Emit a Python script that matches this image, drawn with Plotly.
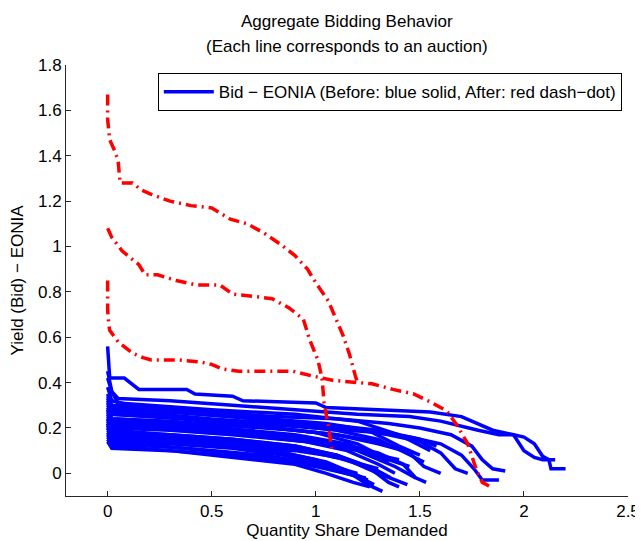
import plotly.graph_objects as go

# ---------------- data ----------------
# Before: blue solid bid curves (quantity share, yield - EONIA)
blue_x = [
    [0, 0.01, 0.08, 0.15, 0.38, 0.42, 0.6, 0.65, 1.0, 1.05, 1.3, 1.55, 1.7, 1.78, 1.85, 1.95, 2.0, 2.05, 2.09, 2.12, 2.13, 2.2],
    [0, 0.02, 0.05, 0.3, 0.6, 0.9, 1.2, 1.45, 1.6, 1.78, 1.88, 1.95, 2.0, 2.05, 2.09, 2.15],
    [0, 0.02, 0.2, 0.5, 0.8, 1.1, 1.35, 1.5, 1.65, 1.75, 1.8, 1.85, 1.91],
    [0, 0.02, 0.25, 0.55, 0.85, 1.1, 1.3, 1.45, 1.6, 1.7, 1.76, 1.8, 1.88],
    [0, 0.02, 0.3, 0.6, 0.9, 1.15, 1.35, 1.5, 1.6, 1.67, 1.73],
    [0, 0.02, 0.3, 0.6, 0.9, 1.1, 1.3, 1.45, 1.52, 1.6],
    [0, 0.02, 0.3, 0.6, 0.9, 1.1, 1.3, 1.42, 1.48, 1.53],
    [0, 0.02, 0.25, 0.55, 0.8, 1.0, 1.15, 1.25, 1.32],
    [0, 0.02, 0.3, 0.6, 0.9, 1.1, 1.25, 1.35, 1.4],
    [0, 0.02, 0.35, 0.7, 1.0, 1.2, 1.35, 1.45],
    [0, 0.03, 0.3, 0.6, 0.85, 1.05, 1.18, 1.25],
    [0, 0.02, 0.3, 0.6, 0.85, 1.0, 1.12, 1.2],
    [0, 0.02, 0.3, 0.6, 0.85, 1.0, 1.12],
    [0, 0.02, 0.4, 0.7, 1.0, 1.2, 1.3, 1.35],
    [0, 0.02, 0.2, 0.5, 0.8, 1.05, 1.25, 1.4, 1.5],
    [0, 0.02, 0.3, 0.55, 0.8, 1.0, 1.15, 1.28],
    [0, 0.02, 0.35, 0.65, 0.95, 1.15, 1.3, 1.38],
    [0, 0.03, 0.3, 0.6, 0.9, 1.05, 1.15],
    [0, 0.02, 0.4, 0.8, 1.1, 1.3, 1.42],
    [0, 0.02, 0.3, 0.6, 0.9, 1.1, 1.22, 1.3],
    [0, 0.02, 0.05, 0.2, 0.5, 0.9, 1.2, 1.4, 1.55],
    [0, 0.02, 0.3, 0.6, 0.95, 1.2, 1.38, 1.48],
    [0, 0.02, 0.25, 0.5, 0.75, 0.95, 1.1, 1.22],
    [0, 0.02, 0.3, 0.6, 0.9, 1.05, 1.18, 1.26],
    [0, 0.02, 0.3, 0.7, 1.0, 1.3, 1.5, 1.58],
    [0, 0.02, 0.3, 0.6, 0.9, 1.1, 1.3, 1.44],
    [0, 0.02, 0.25, 0.5, 0.8, 1.1, 1.3, 1.45, 1.52],
    [0, 0.02, 0.3, 0.6, 0.9, 1.1, 1.28, 1.36],
    [0, 0.02, 0.2, 0.55, 0.9, 1.15, 1.3, 1.4],
    [0, 0.02, 0.3, 0.7, 1.0, 1.15, 1.24],
]
blue_y = [
    [0.56, 0.42, 0.42, 0.37, 0.37, 0.35, 0.34, 0.32, 0.31, 0.29, 0.28, 0.27, 0.25, 0.22, 0.19, 0.17, 0.16, 0.13, 0.075, 0.06, 0.02, 0.02],
    [0.42, 0.36, 0.33, 0.32, 0.30, 0.28, 0.26, 0.25, 0.23, 0.19, 0.17, 0.17, 0.10, 0.07, 0.06, 0.06],
    [0.35, 0.30, 0.29, 0.27, 0.25, 0.24, 0.22, 0.20, 0.17, 0.12, 0.06, 0.02, 0.01],
    [0.30, 0.26, 0.25, 0.23, 0.21, 0.19, 0.18, 0.16, 0.13, 0.08, 0.02, -0.03, -0.03],
    [0.33, 0.28, 0.27, 0.25, 0.22, 0.20, 0.17, 0.14, 0.09, 0.02, 0.0],
    [0.28, 0.24, 0.23, 0.21, 0.19, 0.17, 0.14, 0.09, 0.03, 0.0],
    [0.25, 0.21, 0.20, 0.18, 0.16, 0.13, 0.09, 0.04, -0.02, -0.04],
    [0.22, 0.17, 0.15, 0.12, 0.09, 0.05, 0.01, -0.05, -0.08],
    [0.24, 0.19, 0.17, 0.15, 0.12, 0.08, 0.03, -0.04, -0.06],
    [0.31, 0.26, 0.24, 0.21, 0.18, 0.13, 0.06, 0.03],
    [0.20, 0.15, 0.14, 0.12, 0.09, 0.05, 0.0, -0.03],
    [0.18, 0.14, 0.13, 0.11, 0.08, 0.05, 0.02, 0.0],
    [0.16, 0.13, 0.115, 0.09, 0.06, 0.04, 0.02],
    [0.27, 0.22, 0.20, 0.18, 0.15, 0.11, 0.07, 0.05],
    [0.38, 0.32, 0.28, 0.26, 0.24, 0.22, 0.19, 0.12, 0.08],
    [0.21, 0.16, 0.14, 0.12, 0.10, 0.06, 0.01, -0.05],
    [0.26, 0.21, 0.19, 0.17, 0.14, 0.10, 0.04, 0.0],
    [0.19, 0.15, 0.14, 0.12, 0.10, 0.08, 0.06],
    [0.29, 0.24, 0.22, 0.20, 0.17, 0.13, 0.10],
    [0.23, 0.18, 0.17, 0.15, 0.12, 0.08, 0.04, 0.02],
    [0.45, 0.36, 0.31, 0.30, 0.28, 0.26, 0.23, 0.17, 0.10],
    [0.24, 0.20, 0.19, 0.17, 0.14, 0.10, 0.03, -0.02],
    [0.17, 0.13, 0.12, 0.10, 0.08, 0.05, 0.01, -0.02],
    [0.15, 0.12, 0.10, 0.07, 0.04, 0.0, -0.04, -0.06],
    [0.34, 0.29, 0.27, 0.24, 0.22, 0.19, 0.15, 0.12],
    [0.22, 0.18, 0.16, 0.14, 0.11, 0.08, 0.0, -0.05],
    [0.32, 0.27, 0.26, 0.24, 0.22, 0.19, 0.15, 0.08, 0.05],
    [0.20, 0.16, 0.15, 0.13, 0.11, 0.07, 0.02, -0.02],
    [0.28, 0.23, 0.22, 0.20, 0.17, 0.13, 0.08, 0.06],
    [0.14, 0.11, 0.10, 0.07, 0.03, 0.0, -0.02],
]

# After: red dash-dot bid curves
red_x = [
    [0, 0.0, 0.01, 0.03, 0.05, 0.06, 0.12, 0.16, 0.21, 0.30, 0.40, 0.50, 0.59, 0.67, 0.75, 0.83, 0.90, 0.96, 1.0, 1.06, 1.13, 1.16, 1.19, 1.2],
    [0, 0.02, 0.07, 0.15, 0.18, 0.24, 0.33, 0.43, 0.54, 0.60, 0.70, 0.79, 0.87, 0.94, 0.97, 1.01, 1.03, 1.04, 1.06, 1.08, 1.08],
    [0, 0.0, 0.005, 0.01, 0.05, 0.12, 0.17, 0.21, 0.34, 0.45, 0.5, 0.55, 0.63, 0.89, 0.98, 1.08, 1.2, 1.27, 1.37, 1.47, 1.55, 1.63, 1.68, 1.73, 1.77, 1.8, 1.84],
]
red_y = [
    [1.67, 1.56, 1.47, 1.43, 1.38, 1.28, 1.28, 1.25, 1.23, 1.20, 1.18, 1.17, 1.12, 1.10, 1.06, 1.01, 0.96, 0.90, 0.84, 0.76, 0.61, 0.53, 0.43, 0.40],
    [1.08, 1.04, 0.98, 0.92, 0.875, 0.875, 0.85, 0.83, 0.83, 0.79, 0.78, 0.77, 0.73, 0.68, 0.59, 0.50, 0.42, 0.31, 0.21, 0.107, 0.085],
    [0.85, 0.72, 0.66, 0.63, 0.58, 0.53, 0.51, 0.50, 0.50, 0.49, 0.48, 0.46, 0.45, 0.45, 0.43, 0.41, 0.40, 0.395, 0.37, 0.35, 0.315, 0.275, 0.21, 0.13, 0.02, -0.04, -0.06],
]

x_ticks = [0, 0.5, 1, 1.5, 2, 2.5]
x_tick_labels = ["0", "0.5", "1", "1.5", "2", "2.5"]
y_ticks = [0, 0.2, 0.4, 0.6, 0.8, 1.0, 1.2, 1.4, 1.6, 1.8]
y_tick_labels = ["0", "0.2", "0.4", "0.6", "0.8", "1", "1.2", "1.4", "1.6", "1.8"]

title_lines = ["Aggregate Bidding Behavior", "(Each line corresponds to an auction)"]
legend_name = "Bid − EONIA (Before: blue solid, After: red dash−dot)"
x_title = "Quantity Share Demanded"
y_title = "Yield (Bid) − EONIA"

# ---------------- figure ----------------
FONT = "Liberation Sans, Arial, Helvetica, sans-serif"
FS = 17
fig = go.Figure()

for i, (xs, ys) in enumerate(zip(blue_x, blue_y)):
    fig.add_trace(go.Scatter(
        x=xs, y=ys, mode="lines",
        line=dict(color="#0000ff", width=3.5),
        name=legend_name, showlegend=(i == 0), hoverinfo="skip",
    ))

for xs, ys in zip(red_x, red_y):
    fig.add_trace(go.Scatter(
        x=xs, y=ys, mode="lines",
        line=dict(color="#ff0000", width=3.5, dash="11px,5px,2px,5px"),
        showlegend=False, hoverinfo="skip",
    ))

axis_common = dict(
    showgrid=False, zeroline=False, showline=True, linecolor="#262626",
    linewidth=1, ticks="inside", ticklen=5, tickcolor="#262626", mirror=False,
    tickfont=dict(family=FONT, size=FS, color="#000000"), automargin=False,
)

# page body has an 8px margin, so the figure is 8px smaller and shifted
fig.update_layout(
    width=635, height=533,
    margin=dict(l=58, r=15, t=57, b=45),
    paper_bgcolor="white", plot_bgcolor="white",
    font=dict(family=FONT, size=FS, color="#000000"),
    xaxis=dict(range=[-0.2, 2.5], tickvals=x_ticks, ticktext=x_tick_labels,
               title=dict(text=x_title, font=dict(family=FONT, size=FS), standoff=0),
               **axis_common),
    yaxis=dict(range=[-0.1, 1.8], tickvals=y_ticks, ticktext=y_tick_labels,
               title=dict(text=y_title, font=dict(family=FONT, size=FS), standoff=12),
               **axis_common),
    legend=dict(x=0.989, xanchor="right", y=0.981, yanchor="top",
                bgcolor="white", bordercolor="#000000", borderwidth=1,
                font=dict(family=FONT, size=FS), itemwidth=50,
                tracegroupgap=0),
    showlegend=True,
)

fig.add_annotation(text=title_lines[0], xref="paper", yref="paper", x=0.5, y=1.0998,
                   xanchor="center", yanchor="middle", showarrow=False,
                   font=dict(family=FONT, size=FS, color="#000000"))
fig.add_annotation(text=title_lines[1], xref="paper", yref="paper", x=0.5, y=1.0418,
                   xanchor="center", yanchor="middle", showarrow=False,
                   font=dict(family=FONT, size=FS, color="#000000"))

fig.write_html("out.html")
